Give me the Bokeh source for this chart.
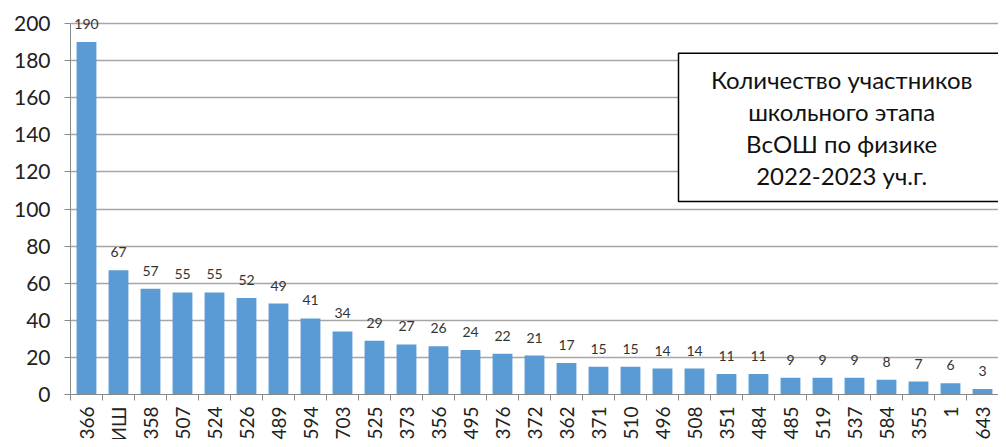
import math
from bokeh.plotting import figure
from bokeh.layouts import column
from bokeh.models import ColumnDataSource, FixedTicker, Range1d, BoxAnnotation, Label, LabelSet
from bokeh.core.properties import value
from bokeh.embed import file_html
from bokeh.resources import INLINE

categories = ["366", "УИШ", "358", "507", "524", "526", "489", "594", "703", "525",
              "373", "356", "495", "376", "372", "362", "371", "510", "496", "508",
              "351", "484", "485", "519", "537", "584", "355", "1", "643"]
values = [190, 67, 57, 55, 55, 52, 49, 41, 34, 29, 27, 26, 24, 22, 21, 17, 15, 15,
          14, 14, 11, 11, 9, 9, 9, 8, 7, 6, 3]
y_ticks = [0, 20, 40, 60, 80, 100, 120, 140, 160, 180, 200]
title_lines = ["Количество участников", "школьного этапа", "ВсОШ по физике", "2022-2023 уч.г."]

FONT = "Lato"
xs = list(range(len(categories)))
src = ColumnDataSource(dict(x=xs, top=values, lab=[str(v) for v in values],
                            cat=categories, one=[1] * len(xs)))

# headroom above 200 so the "190" label is not cut by the plot frame
p = figure(width=998, height=406, output_backend="svg", toolbar_location=None,
           x_range=Range1d(-0.5, len(categories) - 0.5), y_range=Range1d(0, 212.4),
           min_border_top=0, min_border_right=0, min_border_left=70, min_border_bottom=12)
p.outline_line_color = None
p.background_fill_color = "white"

p.vbar(x="x", top="top", width=0.62, source=src, fill_color="#5B9BD5", line_color=None)

p.add_layout(LabelSet(x="x", y="top", text="lab", source=src, text_align="center",
                      text_baseline="bottom", y_offset=13, text_font=value(FONT),
                      text_font_size="14px", text_color="#333333"))

# x axis: boundary ticks only (category names are drawn in the strip below)
xa = p.xaxis[0]
xa.ticker = FixedTicker(ticks=[], minor_ticks=[i - 0.5 for i in range(len(categories) + 1)])
xa.major_tick_out = 0
xa.major_tick_in = 0
xa.minor_tick_out = 6
xa.minor_tick_in = 0
xa.minor_tick_line_color = "#888888"
xa.axis_line_color = "#888888"

# y axis
ya = p.yaxis[0]
ya.ticker = FixedTicker(ticks=y_ticks)
ya.bounds = (0, 200)
ya.major_tick_out = 6
ya.major_tick_in = 0
ya.minor_tick_line_color = None
ya.major_tick_line_color = "#888888"
ya.axis_line_color = "#888888"
ya.major_label_standoff = 14
ya.major_label_text_font = FONT
ya.major_label_text_font_size = "21px"
ya.major_label_text_color = "#222222"

p.xgrid.grid_line_color = None
p.ygrid.grid_line_color = "#a6a6a6"
p.ygrid.grid_line_width = 1.5
p.ygrid.ticker = FixedTicker(ticks=y_ticks)

# title box
p.add_layout(BoxAnnotation(left=18.5, right=40, top=184, bottom=104,
                           fill_color="white", fill_alpha=1.0,
                           line_color="black", line_alpha=1.0, line_width=1.5))
for t, yy in zip(title_lines, [169.8, 152.4, 135.2, 118.2]):
    p.add_layout(Label(x=23.6, y=yy, text=t, text_align="center", text_baseline="middle",
                       text_font=FONT, text_font_size="24px", text_color="#111111"))

# strip with the rotated category names, cut at the bottom like the reference
p2 = figure(width=998, height=33, output_backend="svg", toolbar_location=None,
            x_range=p.x_range, y_range=Range1d(0, 1),
            min_border_top=0, min_border_right=0, min_border_left=70, min_border_bottom=0)
p2.outline_line_color = None
p2.xaxis.visible = False
p2.yaxis.visible = False
p2.grid.grid_line_color = None
p2.text(x="x", y="one", text="cat", source=src, angle=math.pi / 2,
        text_align="right", text_baseline="middle", text_font=value(FONT),
        text_font_size="19px", text_color="#222222")

layout = column(p, p2, spacing=0)
open("out.html", "w").write(file_html(layout, INLINE))
